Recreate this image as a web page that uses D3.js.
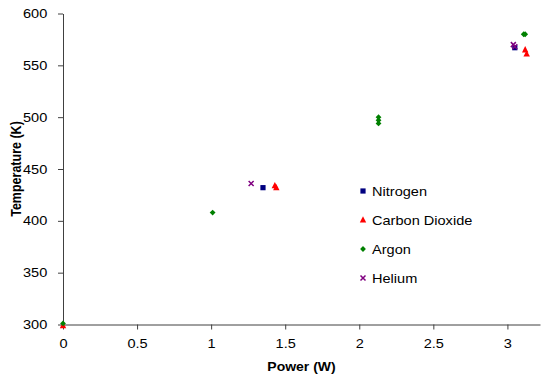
<!DOCTYPE html>
<html>
<head>
<meta charset="utf-8">
<script src="https://cdn.jsdelivr.net/npm/d3@7/dist/d3.min.js"></script>
<style>
  html, body { margin: 0; padding: 0; background: #fff; }
  svg { display: block; }
  text { font-family: Arial, "Liberation Sans", sans-serif; fill: #000; }
</style>
</head>
<body>
<svg id="chart" width="544" height="381"></svg>
<script>
// Measured temperature against heating power for four gases: [power W, temperature K]
const nitrogen = [[1.35, 432], [3.05, 567]];
const carbonDioxide = [[0, 299], [1.43, 434], [1.44, 432], [3.12, 565], [3.13, 561]];
const argon = [[0, 301], [1.01, 408], [2.13, 500], [2.13, 497], [2.13, 494], [3.11, 580], [3.12, 580]];
const helium = [[1.27, 436], [3.04, 570], [3.05, 568]];

const seriesNames = ["Nitrogen", "Carbon Dioxide", "Argon", "Helium"];
const xTicks = [0, 0.5, 1, 1.5, 2, 2.5, 3];
const yTicks = [300, 350, 400, 450, 500, 550, 600];

const series = [
  { name: seriesNames[0], data: nitrogen, color: "#000080", shape: "square" },
  { name: seriesNames[1], data: carbonDioxide, color: "#ff0000", shape: "triangle" },
  { name: seriesNames[2], data: argon, color: "#008000", shape: "diamond" },
  { name: seriesNames[3], data: helium, color: "#800080", shape: "cross" }
];

const svg = d3.select("#chart");
const SX = 1.12; // horizontal text stretch

const x = d3.scaleLinear().domain([0, 3.22]).range([63, 540]);
const y = d3.scaleLinear().domain([300, 600]).range([324.5, 13.5]);

const axisColor = "#404040";

// X axis
const gx = svg.append("g").attr("transform", `translate(0,${y(300)})`)
  .call(d3.axisBottom(x).tickValues(xTicks).tickFormat(d3.format("")).tickSizeInner(5).tickSizeOuter(0).tickPadding(9));
gx.select(".domain").attr("stroke", axisColor);
gx.selectAll(".tick line").attr("stroke", axisColor);
gx.selectAll(".tick text").attr("font-size", 13).attr("fill", "#000")
  .attr("font-family", "Arial, 'Liberation Sans', sans-serif")
  .attr("transform", `scale(${SX},1)`);

// Y axis
const gy = svg.append("g").attr("transform", `translate(${x(0)},0)`)
  .call(d3.axisLeft(y).tickValues(yTicks).tickFormat(d3.format("")).tickSizeInner(5).tickSizeOuter(0).tickPadding(9));
gy.select(".domain").attr("stroke", axisColor);
gy.selectAll(".tick line").attr("stroke", axisColor);
gy.selectAll(".tick text").attr("font-size", 13).attr("fill", "#000")
  .attr("font-family", "Arial, 'Liberation Sans', sans-serif")
  .attr("transform", `scale(${SX},1)`);

// Axis titles
svg.append("text")
  .attr("transform", `translate(${(x(0) + 540) / 2},${371}) scale(${SX},1)`)
  .attr("text-anchor", "middle").attr("font-size", 12.5).attr("font-weight", "bold")
  .text("Power (W)");
svg.append("text")
  .attr("transform", `translate(21,${(y(300) + y(600)) / 2}) rotate(-90) scale(1,${SX})`)
  .attr("text-anchor", "middle").attr("font-size", 12.5).attr("font-weight", "bold")
  .text("Temperature (K)");

// Marker shapes
function marker(sel, shape, color) {
  if (shape === "square") {
    sel.append("rect").attr("x", -2.6).attr("y", -2.6).attr("width", 5.2).attr("height", 5.2).attr("fill", color);
  } else if (shape === "triangle") {
    sel.append("path").attr("d", "M0,-3.7L3.2,2.6L-3.2,2.6Z").attr("fill", color);
  } else if (shape === "diamond") {
    sel.append("path").attr("d", "M0,-2.9L2.9,0L0,2.9L-2.9,0Z").attr("fill", color);
  } else if (shape === "cross") {
    sel.append("path").attr("d", "M-2.5,-2.5L2.5,2.5M-2.5,2.5L2.5,-2.5")
      .attr("stroke", color).attr("stroke-width", 1.5).attr("fill", "none");
  }
}

// Points
series.forEach(s => {
  svg.append("g").selectAll("g").data(s.data).join("g")
    .attr("transform", d => `translate(${x(d[0])},${y(d[1])})`)
    .each(function () { marker(d3.select(this), s.shape, s.color); });
});

// Legend
const legend = svg.append("g");
series.forEach((s, i) => {
  const row = legend.append("g").attr("transform", `translate(363,${191 + i * 29})`);
  marker(row, s.shape, s.color);
  row.append("text").attr("transform", `translate(9,0) scale(${SX},1)`)
    .attr("dy", "0.36em").attr("font-size", 13).text(s.name);
});
</script>
</body>
</html>
